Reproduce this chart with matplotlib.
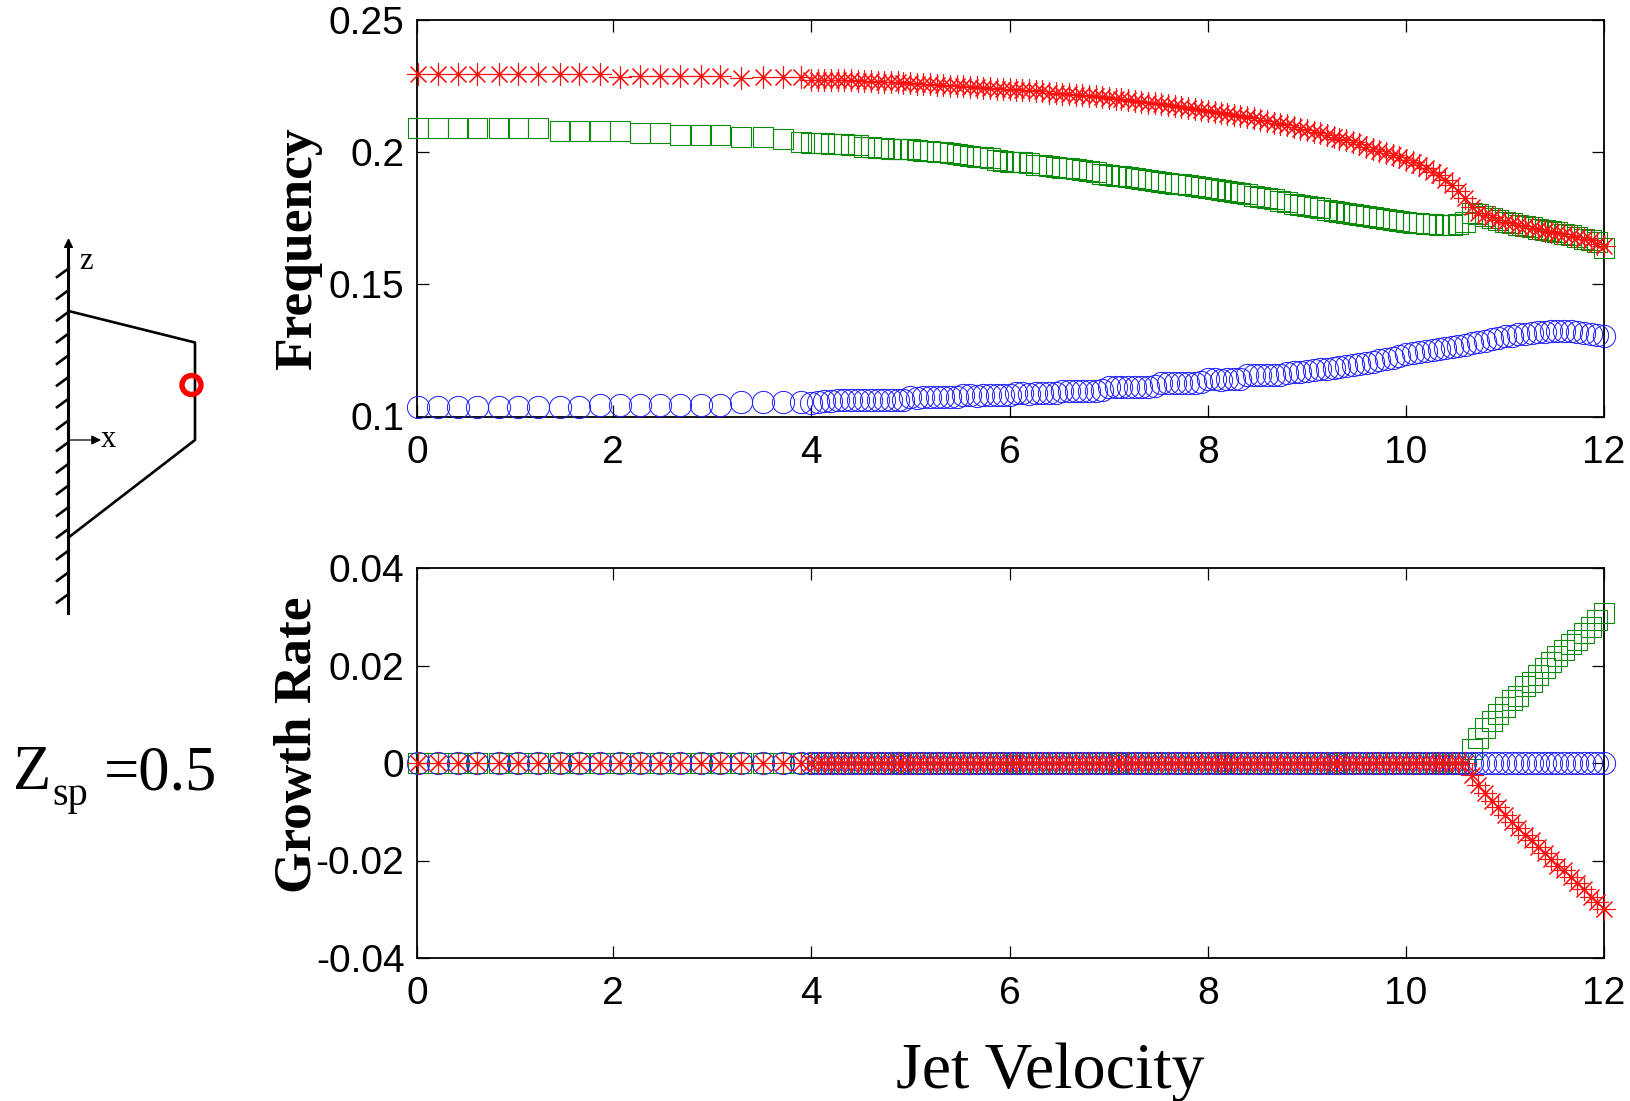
import matplotlib
matplotlib.use('Agg')
import matplotlib.pyplot as plt
from matplotlib.patches import Circle

W, H = 1631, 1101

jet_velocity = [
    0.03, 0.23, 0.43, 0.63, 0.85, 1.04, 1.24, 1.46, 1.65, 1.87, 2.07, 2.27, 2.47, 2.67, 2.89, 3.08, 3.29, 3.51, 3.71, 3.90,
    4.00, 4.07, 4.13, 4.20, 4.27, 4.33, 4.40, 4.47, 4.53, 4.60, 4.67, 4.73, 4.80, 4.87, 4.93,
    5.00, 5.07, 5.13, 5.20, 5.27, 5.33, 5.40, 5.47, 5.53, 5.60, 5.67, 5.73, 5.80, 5.87, 5.93,
    6.00, 6.07, 6.13, 6.20, 6.27, 6.33, 6.40, 6.47, 6.53, 6.60, 6.67, 6.73, 6.80, 6.87, 6.93,
    7.00, 7.07, 7.13, 7.20, 7.27, 7.33, 7.40, 7.47, 7.53, 7.60, 7.67, 7.73, 7.80, 7.87, 7.93,
    8.00, 8.07, 8.13, 8.20, 8.27, 8.33, 8.40, 8.47, 8.53, 8.60, 8.67, 8.73, 8.80, 8.87, 8.93,
    9.00, 9.07, 9.13, 9.20, 9.27, 9.33, 9.40, 9.47, 9.53, 9.60, 9.67, 9.73, 9.80, 9.87, 9.93,
    10.00, 10.07, 10.13, 10.20, 10.27, 10.33, 10.40, 10.47, 10.53, 10.60, 10.67, 10.73, 10.80, 10.87, 10.93,
    11.00, 11.07, 11.13, 11.20, 11.27, 11.33, 11.40, 11.47, 11.53, 11.60, 11.67, 11.73, 11.80, 11.87, 11.93,
    12.00,
]

freq_red = [
    .2294, .2294, .2294, .2294, .2294, .2294, .2294, .2294, .2294, .2294,
    .2284, .2288, .2288, .2288, .2288, .2288, .2280, .2284, .2284, .2284,
    .2272, .2272, .2272, .2272, .2270, .2270, .2270, .2268, .2268, .2268, .2264, .2264, .2264, .2262, .2260,
    .2260, .2258, .2256, .2256, .2254, .2252, .2250, .2250, .2248, .2246, .2244, .2242, .2240, .2238, .2236,
    .2236, .2232, .2232, .2232, .2228, .2228, .2224, .2224, .2220, .2220, .2216, .2216, .2212, .2212, .2208,
    .2202, .2200, .2198, .2194, .2192, .2188, .2186, .2184, .2180, .2176, .2172, .2170, .2166, .2162, .2158,
    .2154, .2150, .2148, .2144, .2140, .2134, .2130, .2126, .2120, .2116, .2108, .2104, .2100, .2092, .2088,
    .2084, .2076, .2072, .2064, .2056, .2048, .2044, .2036, .2028, .2020, .2012, .2004, .1996, .1988, .1980,
    .1970, .1960, .1950, .1938, .1925, .1912, .1895, .1875, .1852, .1825, .1790, .1768, .1760, .1752, .1742,
    .1735, .1730, .1724, .1718, .1714, .1708, .1702, .1698, .1692, .1688, .1682, .1678, .1672, .1668, .1650,
    .1643,
]

freq_green = [
    .2089, .2089, .2089, .2089, .2089, .2089, .2089, .2080, .2080, .2080,
    .2080, .2071, .2071, .2063, .2063, .2063, .2056, .2056, .2047, .2039,
    .2034, .2034, .2032, .2030, .2028, .2028, .2024, .2024, .2020, .2020, .2016, .2016, .2012, .2012, .2012,
    .2010, .2006, .2004, .2002, .2000, .1998, .1994, .1992, .1988, .1986, .1982, .1980, .1976, .1970, .1966,
    .1962, .1962, .1960, .1956, .1952, .1952, .1948, .1944, .1940, .1938, .1934, .1930, .1926, .1922, .1918,
    .1912, .1910, .1908, .1906, .1902, .1898, .1894, .1890, .1886, .1884, .1880, .1878, .1874, .1870, .1866,
    .1862, .1858, .1856, .1852, .1848, .1844, .1840, .1834, .1830, .1826, .1820, .1816, .1810, .1804, .1799,
    .1795, .1790, .1786, .1782, .1778, .1774, .1770, .1766, .1762, .1758, .1754, .1750, .1746, .1742, .1738,
    .1735, .1732, .1730, .1728, .1726, .1724, .1723, .1723, .1726, .1733, .1768, .1764, .1756, .1750, .1742,
    .1735, .1730, .1724, .1720, .1716, .1710, .1706, .1700, .1696, .1690, .1684, .1680, .1672, .1668, .1660,
    .1638,
]

freq_blue = [
    .1035, .1035, .1035, .1035, .1035, .1035, .1035, .1035, .1035, .1043,
    .1043, .1043, .1043, .1043, .1043, .1043, .1054, .1054, .1054, .1054,
    .1050, .1054, .1058, .1060, .1062, .1062, .1062, .1064, .1062, .1064, .1062, .1062, .1064, .1064, .1062,
    .1072, .1070, .1072, .1072, .1074, .1072, .1072, .1072, .1081, .1081, .1079, .1081, .1081, .1081, .1081,
    .1081, .1088, .1088, .1086, .1088, .1088, .1090, .1088, .1098, .1098, .1096, .1098, .1098, .1098, .1100,
    .1113, .1113, .1111, .1113, .1113, .1113, .1113, .1115, .1126, .1128, .1128, .1126, .1128, .1128, .1130,
    .1140, .1140, .1138, .1140, .1142, .1142, .1155, .1157, .1155, .1157, .1157, .1157, .1165, .1169, .1169,
    .1172, .1176, .1178, .1180, .1184, .1186, .1190, .1194, .1198, .1202, .1206, .1212, .1216, .1222, .1228,
    .1236, .1240, .1244, .1248, .1252, .1256, .1260, .1264, .1268, .1272, .1276, .1282, .1286, .1292, .1298,
    .1304, .1306, .1310, .1312, .1316, .1318, .1320, .1322, .1322, .1322, .1322, .1320, .1316, .1312, .1308,
    .1305,
]

# growth rates stay at zero until the modes merge near 10.67
growth_flat = [0.0] * 120
growth_green = growth_flat + [
    .0029, .0052, .0071, .0086, .0100, .0114, .0129, .0137, .0157, .0166, .0181,
    .0195, .0207, .0219, .0231, .0244, .0253, .0266, .0278, .0293, .0308,
]
growth_red = growth_flat + [
    -.0025, -.0045, -.0062, -.0077, -.0091, -.0106, -.0121, -.0133, -.0147, -.0158, -.0172,
    -.0184, -.0197, -.0211, -.0220, -.0234, -.0246, -.0259, -.0274, -.0286, -.0300,
]
growth_blue = [0.0] * 141

x_ticks = [0.02, 2, 4, 6, 8, 10, 12]
x_ticklabels = ['0', '2', '4', '6', '8', '10', '12']
freq_ticks = [0.1, 0.15, 0.2, 0.25]
freq_ticklabels = ['0.1', '0.15', '0.2', '0.25']
growth_ticks = [-0.04, -0.02, 0, 0.02, 0.04]
growth_ticklabels = ['-0.04', '-0.02', '0', '0.02', '0.04']


def px_axes(fig, left, top, right, bottom):
    return fig.add_axes([left / W, 1 - bottom / H, (right - left) / W, (bottom - top) / H])


def draw_series(ax, green, blue, red):
    ax.plot(jet_velocity, green, ls='none', marker='s', ms=14.4, mfc='none', mec='#0a8a0a', mew=0.8, clip_on=False, zorder=3)
    ax.plot(jet_velocity, blue, ls='none', marker='o', ms=16, mfc='none', mec='#1a1aff', mew=0.7, clip_on=False, zorder=4)
    ax.plot(jet_velocity, red, ls='none', marker=(8, 2, 0), ms=16, mec='#ff1010', mew=0.8, clip_on=False, zorder=5)


def style_axes(ax, y_ticks, y_labels, y_range):
    ax.set_xlim(0.02, 12)
    ax.set_ylim(*y_range)
    ax.set_xticks(x_ticks)
    ax.set_xticklabels(x_ticklabels)
    ax.set_yticks(y_ticks)
    ax.set_yticklabels(y_labels)
    ax.tick_params(direction='in', top=True, right=True, length=8.5, width=0.9, labelsize=28)
    ax.tick_params(axis='x', pad=13)
    ax.tick_params(axis='y', pad=9)
    for label in ax.get_xticklabels() + ax.get_yticklabels():
        label.set_family('Liberation Sans')
    for spine in ax.spines.values():
        spine.set_linewidth(1.3)


def draw_sketch(fig):
    sk = fig.add_axes([0, 0, 1, 1], zorder=-1)
    sk.set_xlim(0, W)
    sk.set_ylim(H, 0)
    sk.axis('off')
    sk.plot([68.5, 68.5], [245, 613], color='k', lw=2.2)
    for i in range(16):
        y = 276.5 + 21.7 * i
        sk.plot([57, 68.5], [y + 0.5, y - 8], color='k', lw=1.9)
    sk.plot([68.5, 195, 195, 68.5], [311, 342.5, 440, 537.5], color='k', lw=1.9)
    sk.annotate('', xy=(68.5, 238), xytext=(68.5, 262),
                arrowprops=dict(arrowstyle='-|>', color='k', lw=1, mutation_scale=14, shrinkA=0, shrinkB=0))
    sk.annotate('', xy=(101, 440), xytext=(68.5, 440),
                arrowprops=dict(arrowstyle='-|>', color='k', lw=0.9, mutation_scale=14, shrinkA=0, shrinkB=0))
    sk.add_patch(Circle((191.5, 385), 9.5, fc='none', ec='#ff0000', lw=3.9, zorder=3))
    sk.text(79, 269, 'z', family='Liberation Serif', fontsize=22, ha='left', va='baseline')
    sk.text(101, 447, 'x', family='Liberation Serif', fontsize=22, ha='left', va='baseline')
    sk.text(13, 789, 'Z', family='Liberation Serif', fontsize=45, ha='left', va='baseline')
    sk.text(52, 805, 'sp', family='Liberation Serif', fontsize=29, ha='left', va='baseline')
    sk.text(104, 789, '=0.5', family='Liberation Serif', fontsize=45, ha='left', va='baseline')


def main():
    fig = plt.figure(figsize=(W / 100, H / 100), dpi=100)
    draw_sketch(fig)

    ax1 = px_axes(fig, 417, 19.5, 1604, 416.5)
    draw_series(ax1, freq_green, freq_blue, freq_red)
    style_axes(ax1, freq_ticks, freq_ticklabels, (0.1, 0.25))

    ax2 = px_axes(fig, 417, 568, 1604, 958)
    draw_series(ax2, growth_green, growth_blue, growth_red)
    style_axes(ax2, growth_ticks, growth_ticklabels, (-0.04, 0.04))

    fig.text(298 / W, 1 - 249 / H, 'Frequency', family='Liberation Serif', weight='bold', fontsize=38.5,
             rotation=90, ha='center', va='center')
    fig.text(298 / W, 1 - 745 / H, 'Growth Rate', family='Liberation Serif', weight='bold', fontsize=38.3,
             rotation=90, ha='center', va='center')
    fig.text(1050 / W, 1 - 1072 / H, 'Jet Velocity', family='Liberation Serif', fontsize=47.5,
             ha='center', va='center')

    plt.savefig('out.png', dpi=100)


if __name__ == "__main__":
    main()
